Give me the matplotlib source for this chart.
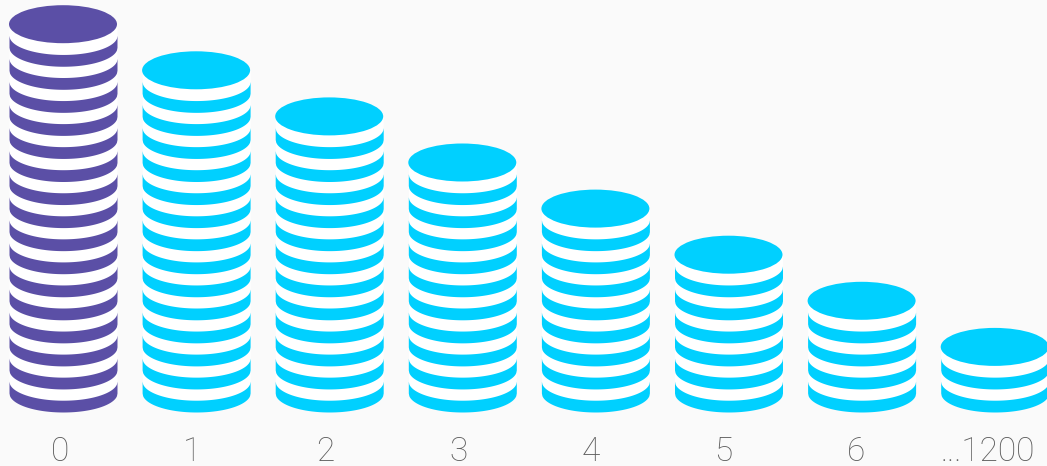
import matplotlib
matplotlib.use("Agg")
import matplotlib.pyplot as plt
from matplotlib.patches import Ellipse
import numpy as np

# ---------- data ----------
LABELS = ["0", "1", "2", "3", "4", "5", "6", "...1200"]
COINS = [17, 15, 13, 11, 9, 7, 5, 3]
COLORS = ["#5b4fa6", "#00d0ff", "#00d0ff", "#00d0ff", "#00d0ff", "#00d0ff", "#00d0ff", "#00d0ff"]

# ---------- palette / sizes (px on the 1047x466 canvas) ----------
BG = "#fafafa"
INK = "#5c5c5c"
W, H = 1047, 466
FIRST_X = 63.0
STEP_X = 133.1
BASE_Y = 412.0
COIN_PX = 23.05
RX = 54.0
RY = 19.0
BAND_PX = 11.8
LABEL_BASE_Y = 461.0

fig = plt.figure(figsize=(W / 100, H / 100), dpi=100)
fig.patch.set_facecolor(BG)
ax = fig.add_axes([0, 0, 1, 1])
ax.set_facecolor(BG)
ax.axis("off")

# x in categories, y in coins
ax.set_xlim(-FIRST_X / STEP_X, (W - FIRST_X) / STEP_X)
ax.set_ylim(-(H - BASE_Y) / COIN_PX, BASE_Y / COIN_PX)

rx = RX / STEP_X
ry = RY / COIN_PX
band = BAND_PX / COIN_PX
u = np.linspace(-1, 1, 201)
arc = ry * (1 - np.sqrt(1 - u ** 2))

for i, (n, color) in enumerate(zip(COINS, COLORS)):
    xs = i + rx * u
    # white gaps behind the coloured bands
    ax.fill_between(xs, arc, n - 1 + ry, color="white", lw=0, zorder=2)
    for c in range(n - 1):
        ax.fill_between(xs, c + arc, c + band + arc, color=color, lw=0, zorder=3)
    ax.add_patch(Ellipse((i, n - 1 + ry), 2 * rx, 2 * ry, fc=color, ec="none", zorder=4))

# ---------- labels ----------
LABEL_SHIFT = [-3, -4, -3.5, -3.5, -5, -5, -6, -7]
for i, lab in enumerate(LABELS):
    ax.text(i + LABEL_SHIFT[i] / STEP_X, -(LABEL_BASE_Y - BASE_Y) / COIN_PX, lab, family="Roboto",
            weight="light", fontsize=24, color=INK, ha="center", va="baseline")

fig.savefig("out.png", dpi=100, facecolor=fig.get_facecolor())
